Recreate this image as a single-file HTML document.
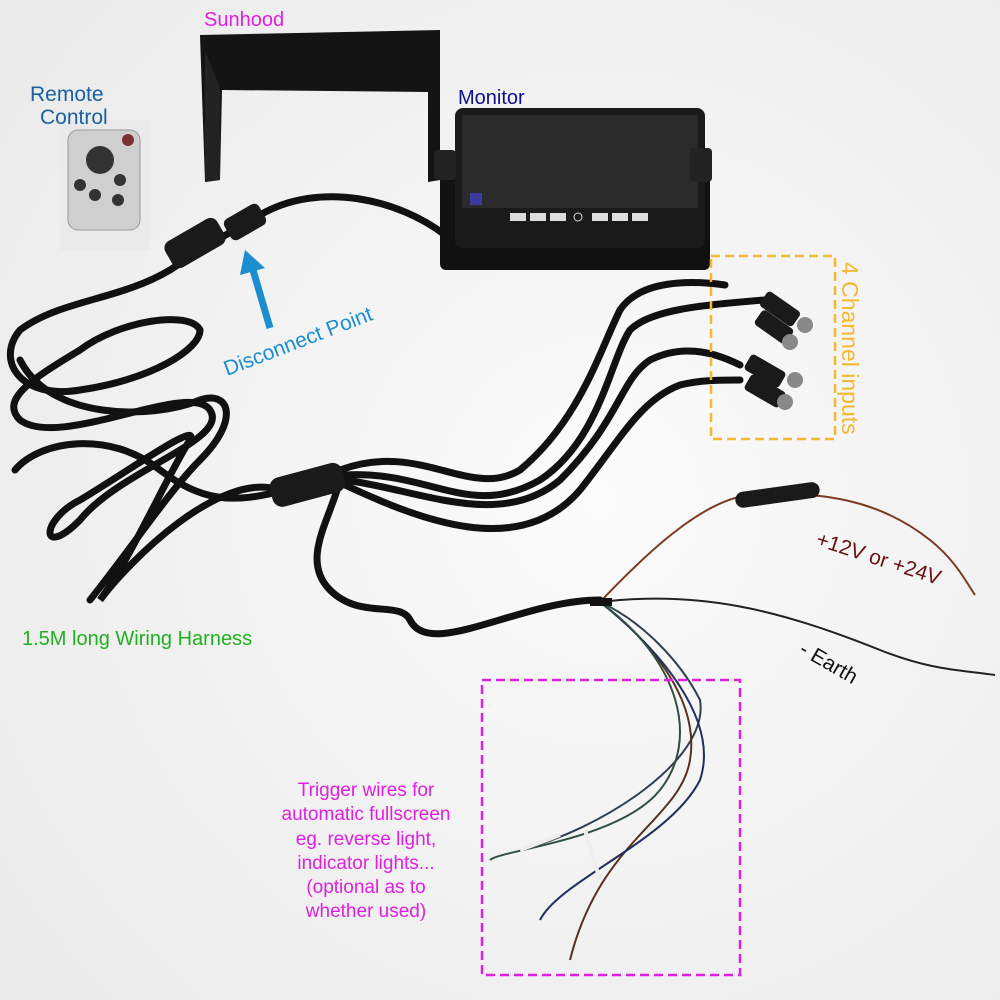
<!DOCTYPE html>
<html><head><meta charset="utf-8"><style>
html,body{margin:0;padding:0}
body{width:1000px;height:1000px;overflow:hidden;background:#f3f3f3;font-family:"Liberation Sans",sans-serif}
svg{display:block}
</style></head><body>
<svg width="1000" height="1000" viewBox="0 0 1000 1000" xmlns="http://www.w3.org/2000/svg">
<defs>
<radialGradient id="bg" cx="0.6" cy="0.5" r="0.8">
<stop offset="0" stop-color="#fbfbfb"/><stop offset="1" stop-color="#e9e9e9"/>
</radialGradient>
</defs>
<rect width="1000" height="1000" fill="url(#bg)"/>

<!-- Sunhood -->
<path d="M200 35 L440 30 L440 180 L428 182 L428 92 L222 90 L220 180 L205 182 Z" fill="#141414"/>
<path d="M205 50 L220 88 L220 180 L205 182 Z" fill="#222"/>

<!-- Monitor -->
<rect x="440" y="160" width="270" height="110" rx="6" fill="#111"/>
<rect x="455" y="108" width="250" height="140" rx="8" fill="#1a1a1a"/>
<rect x="462" y="115" width="236" height="93" fill="#2a2a2a"/>
<rect x="434" y="150" width="22" height="30" rx="4" fill="#222"/>
<rect x="690" y="148" width="22" height="34" rx="4" fill="#222"/>
<g fill="#ddd">
<rect x="510" y="213" width="16" height="8"/><rect x="530" y="213" width="16" height="8"/><rect x="550" y="213" width="16" height="8"/>
<circle cx="578" cy="217" r="4" fill="none" stroke="#ddd"/>
<rect x="592" y="213" width="16" height="8"/><rect x="612" y="213" width="16" height="8"/><rect x="632" y="213" width="16" height="8"/>
</g>
<rect x="470" y="193" width="12" height="12" fill="#3a3aa0"/>

<!-- Remote -->
<rect x="60" y="120" width="90" height="130" fill="#e8e8e8" opacity="0.7"/>
<rect x="68" y="130" width="72" height="100" rx="10" fill="#cfcfcf" stroke="#999"/>
<circle cx="100" cy="160" r="14" fill="#333"/>
<circle cx="80" cy="185" r="6" fill="#333"/><circle cx="120" cy="180" r="6" fill="#333"/>
<circle cx="95" cy="195" r="6" fill="#333"/><circle cx="118" cy="200" r="6" fill="#333"/>
<circle cx="128" cy="140" r="6" fill="#7a3030"/>

<!-- Cables -->
<g fill="none" stroke="#111" stroke-width="7" stroke-linecap="round">
<path d="M445 235 C400 200 320 180 260 215 C230 232 200 250 170 270 C120 300 60 300 20 330 C-5 360 20 400 80 390 C150 380 200 350 200 330 C190 310 120 320 80 350 C30 380 0 400 20 420 C60 450 190 380 210 410 C230 440 120 470 80 520 C40 560 40 520 80 500 C130 470 200 420 190 440 C170 470 130 560 100 600 C130 560 220 470 280 490"/>
<path d="M20 360 C50 420 150 420 200 400 C230 390 240 420 200 460 C170 490 130 550 90 600"/>
<path d="M15 470 C40 440 110 430 160 470 C200 500 230 505 285 490"/>
<path d="M340 470 C420 440 470 500 520 470 C580 420 600 350 620 310 C640 280 690 280 725 285"/>
<path d="M345 475 C430 470 470 520 540 480 C600 440 610 360 630 330 C650 310 700 305 765 300"/>
<path d="M345 480 C420 490 500 530 560 480 C620 420 620 380 650 360 C680 345 710 350 740 365"/>
<path d="M345 485 C420 520 520 560 580 490 C620 440 640 400 680 385 C700 380 720 380 740 380"/>
<path d="M340 480 C330 520 300 560 330 590 C360 620 400 600 410 620 C430 660 520 600 600 600"/>
</g>
<rect x="270" y="470" width="75" height="30" rx="10" fill="#1a1a1a" transform="rotate(-15 307 485)"/>
<rect x="165" y="228" width="60" height="30" rx="8" fill="#1a1a1a" transform="rotate(-30 195 243)"/>
<rect x="225" y="210" width="40" height="24" rx="6" fill="#1a1a1a" transform="rotate(-30 245 222)"/>

<!-- Connectors -->
<g fill="#1a1a1a">
<rect x="760" y="300" width="40" height="18" rx="4" transform="rotate(35 780 309)"/>
<rect x="755" y="318" width="38" height="18" rx="4" transform="rotate(35 774 327)"/>
<rect x="745" y="362" width="40" height="18" rx="4" transform="rotate(30 765 371)"/>
<rect x="745" y="382" width="40" height="18" rx="4" transform="rotate(30 765 391)"/>
</g>
<g fill="#888"><circle cx="805" cy="325" r="8"/><circle cx="790" cy="342" r="8"/><circle cx="795" cy="380" r="8"/><circle cx="785" cy="402" r="8"/></g>

<!-- Power wires -->
<g fill="none" stroke-width="2">
<path d="M600 602 C640 560 700 500 750 495 C820 490 880 500 930 540 C955 560 965 580 975 595" stroke="#7a3a20"/>
<path d="M600 602 C700 590 780 610 880 650 C930 670 960 670 995 675" stroke="#222"/>
<path d="M600 602 C640 620 680 660 700 700 C710 760 600 830 520 850" stroke="#2f4050"/>
<path d="M600 602 C650 640 700 700 690 760 C680 820 600 840 570 960" stroke="#5a3020"/>
<path d="M600 602 C660 650 720 720 700 780 C670 840 560 880 540 920" stroke="#1f2f60"/>
<path d="M600 602 C680 660 700 740 660 790 C620 840 500 850 490 860" stroke="#2f5040"/>
</g>
<g fill="none" stroke="#eee" stroke-width="4"><path d="M520 850 L560 835"/><path d="M585 830 L600 880"/></g>
<rect x="735" y="487" width="85" height="16" rx="8" fill="#1a1a1a" transform="rotate(-8 777 495)"/>
<rect x="590" y="598" width="22" height="8" fill="#111"/>

<!-- Annotation boxes -->
<rect x="711" y="256" width="124" height="183" fill="none" stroke="#f5b830" stroke-width="2.5" stroke-dasharray="9,5"/>
<rect x="482" y="680" width="258" height="295" fill="none" stroke="#e020e0" stroke-width="2.5" stroke-dasharray="9,5"/>

<!-- Arrow -->
<line x1="270" y1="328" x2="253" y2="270" stroke="#1a8ed0" stroke-width="7"/>
<polygon points="245,250 240,275 265,268" fill="#1a8ed0"/>

<!-- Labels -->
<g font-family="Liberation Sans, sans-serif" font-size="20">
<text x="204" y="26" fill="#e020e0">Sunhood</text>
<text x="458" y="104" fill="#10108a">Monitor</text>
<text x="30" y="101" fill="#1a60a0" font-size="21">Remote</text>
<text x="40" y="124" fill="#1a60a0" font-size="21">Control</text>
<text x="227" y="376" fill="#1a8ed0" font-size="21" transform="rotate(-21 227 376)">Disconnect Point</text>
<text x="22" y="645" fill="#20b020">1.5M long Wiring Harness</text>
<text x="842" y="262" fill="#f5b830" font-size="23" transform="rotate(90 842 262)">4 Channel inputs</text>
<text x="815" y="545" fill="#6a1010" font-size="21" transform="rotate(18 815 545)">+12V or +24V</text>
<text x="798" y="653" fill="#111" font-size="21" transform="rotate(30 798 653)">- Earth</text>
<g fill="#e020e0" text-anchor="middle" font-size="19">
<text x="366" y="796">Trigger wires for</text>
<text x="366" y="820">automatic fullscreen</text>
<text x="366" y="845">eg. reverse light,</text>
<text x="366" y="869">indicator lights...</text>
<text x="366" y="893">(optional as to</text>
<text x="366" y="917">whether used)</text>
</g>
</g>
</svg>
</body></html>
